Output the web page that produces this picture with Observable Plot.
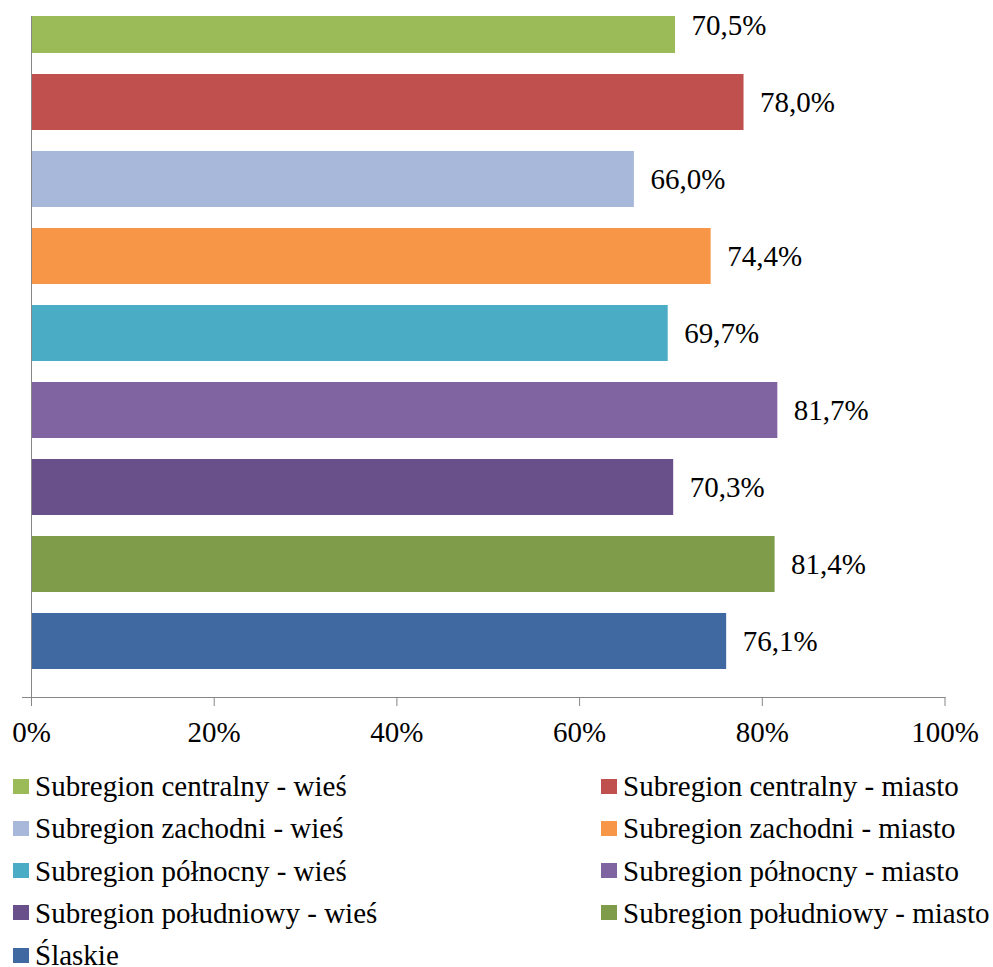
<!DOCTYPE html>
<html>
<head>
<meta charset="utf-8">
<script src="https://cdn.jsdelivr.net/npm/d3@7"></script>
<script src="https://cdn.jsdelivr.net/npm/@observablehq/plot@0.6"></script>
<style>
  html, body { margin: 0; padding: 0; background: #fff; }
  body { width: 993px; height: 967px; overflow: hidden; font-family: "Liberation Serif", "Times New Roman", serif; }
  #chart svg { display: block; }
  #legend { display: grid; grid-template-columns: 588px 392px; row-gap: 12.25px; margin-left: 13px; margin-top: 21px; }
  .item { display: flex; align-items: center; height: 30px; line-height: 30px; color: #000; white-space: nowrap; }
  .sw { width: 16px; height: 15px; margin-right: 6px; flex: none; }
</style>
</head>
<body>
<div id="chart"></div>
<div id="legend"></div>
<script>
const categories = [
  "Subregion centralny - wieś",
  "Subregion centralny - miasto",
  "Subregion zachodni - wieś",
  "Subregion zachodni - miasto",
  "Subregion północny - wieś",
  "Subregion północny - miasto",
  "Subregion południowy - wieś",
  "Subregion południowy - miasto",
  "Ślaskie"
];
const values = [70.5, 78.0, 66.0, 74.4, 69.7, 81.7, 70.3, 81.4, 76.1];
const colors = ["#9BBB59", "#C0504D", "#A8B8DA", "#F79646", "#4BACC6", "#8064A2", "#69508A", "#7E9C49", "#3F69A0"];
const xTicks = [0, 20, 40, 60, 80, 100];

const fontFamily = `"Liberation Serif", "Times New Roman", serif`;
const fontSize = 29;

const data = categories.map((c, i) => ({category: c, value: values[i], color: colors[i]}));
const fmt = v => v.toFixed(1).replace(".", ",") + "%";

const chart = Plot.plot({
  width: 993,
  height: 750,
  marginLeft: 31,
  marginRight: 48.5,
  marginTop: 16,
  marginBottom: 53,
  style: {fontFamily: fontFamily, fontSize: fontSize + "px", color: "#000", background: "#fff"},
  x: {domain: [0, 100], ticks: xTicks, tickFormat: d => d + "%", label: null},
  y: {domain: categories, range: [-13.5, 679.5], paddingInner: 21/77, paddingOuter: 21/154, axis: null},
  marks: [
    Plot.barX(data, {x: "value", y: "category", fill: "color", clip: "frame"}),
    Plot.text(data, {x: "value", y: "category", text: d => fmt(d.value), textAnchor: "start", dx: 16, fill: "#000", fontSize: fontSize}),
    Plot.frame({anchor: "left", stroke: "#868686"}),
    Plot.frame({anchor: "bottom", stroke: "#868686", insetLeft: -9}),
    Plot.axisX({ticks: xTicks, tickFormat: d => d + "%", tickSize: 9, tickPadding: 15, stroke: "#868686", fill: "#000", fontSize: fontSize, label: null})
  ]
});
document.getElementById("chart").appendChild(chart);

const legend = d3.select("#legend");
data.forEach(d => {
  const it = legend.append("div").attr("class", "item").style("font-size", fontSize + "px");
  it.append("span").attr("class", "sw").style("background", d.color);
  it.append("span").text(d.category);
});
</script>
</body>
</html>
